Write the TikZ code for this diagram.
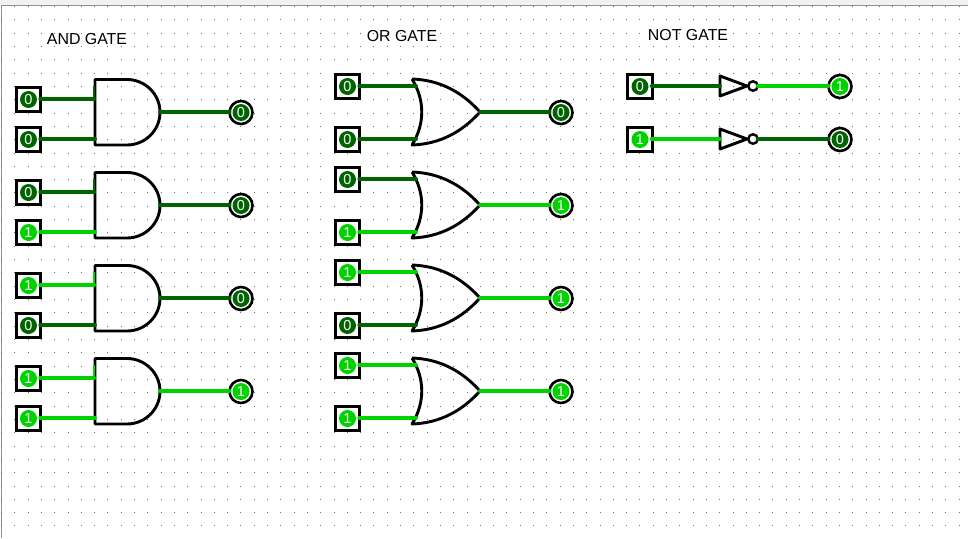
\documentclass[tikz,border=0pt]{standalone}
\usepackage{fontspec}
\setmainfont{Liberation Sans}
\usetikzlibrary{calc}
\definecolor{vzero}{RGB}{0,100,0}
\definecolor{vone}{RGB}{0,210,0}
\colorlet{wirecol0}{vzero}
\colorlet{wirecol1}{vone}
\definecolor{griddot}{RGB}{110,110,110}
\definecolor{frameline}{RGB}{140,145,155}
\definecolor{band}{RGB}{240,240,240}
\tikzset{
  wire0/.style={draw=vzero,line width=4pt,line cap=round},
  wire1/.style={draw=vone,line width=4pt,line cap=round},
  gateline/.style={draw=black,line width=2.9pt,line join=round},
  inbox/.style={draw=black,line width=3.2pt,fill=white,minimum size=24.6pt,inner sep=0pt,outer sep=0pt},
  outring/.style={circle,draw=black,line width=2.6pt,fill=white,minimum size=23pt,inner sep=0pt,outer sep=0pt},
  blob0/.style={circle,fill=vzero,minimum size=17pt,inner sep=0pt,text=white,font=\fontsize{14.5}{14.5}\selectfont},
  blob1/.style={circle,fill=vone,minimum size=17pt,inner sep=0pt,text=white,font=\fontsize{14.5}{14.5}\selectfont},
  title/.style={font=\fontsize{15.9}{16}\selectfont,text=black,inner sep=0pt},
  bubble/.style={circle,draw=black,line width=2.4pt,fill=white,minimum size=9.5pt,inner sep=0pt,outer sep=0pt}
}
% name, x, y, value
\newcommand{\inpin}[4]{%
  \node[inbox] (#1) at (#2,#3+0.5) {};
  \node[blob#4] (#1v) at (#2,#3+0.5) {#4};
}
\newcommand{\outpin}[4]{%
  \node[outring] (#1) at (#2,#3+0.5) {};
  \node[blob#4] (#1v) at (#2,#3+0.5) {#4};
}
% name, top y, a, b, out
\newcommand{\androw}[5]{%
  \inpin{#1a}{28.5}{#2+19.5}{#3}
  \inpin{#1b}{28.5}{#2+59.5}{#4}
  \outpin{#1o}{241}{#2+32.5}{#5}
  \coordinate (#1pa) at (94,#2+19.5);
  \coordinate (#1ps) at (94,#2+6.5);
  \coordinate (#1pb) at (95,#2+59.5);
  \coordinate (#1pq) at (160,#2+32.5);
  \draw[gateline] (127,#2) -- (95,#2) -- (95,#2+65.5) -- (127,#2+65.5)
    .. controls (145,#2+65.5) and (160,#2+51) .. (160,#2+32.75)
    .. controls (160,#2+14.5) and (145,#2) .. (127,#2);
  \draw[wire#3] (#1a.east) ++(-0.5,-0.5) -- (#1pa);
  \draw[line width=2.5pt,draw=wirecol#3] (#1pa) -- (#1ps);
  \draw[wire#4] (#1b.east) ++(-0.5,-0.5) -- (#1pb);
  \draw[wire#5] (#1pq) -- ($(#1o.west)+(0,-0.5)$);
}
% name, top y, ya offset, yb offset, a, b, out
\newcommand{\orrow}[7]{%
  \inpin{#1a}{347.5}{#2+#3}{#5}
  \inpin{#1b}{347.5}{#2+#4}{#6}
  \outpin{#1o}{561}{#2+33}{#7}
  \coordinate (#1pa) at (416,#2+#3);
  \coordinate (#1pb) at (416,#2+#4);
  \coordinate (#1pq) at (480,#2+33);
  \draw[gateline] (412,#2) .. controls (425,#2+21) and (425,#2+45) .. (412,#2+66)
    .. controls (440,#2+65) and (462,#2+53) .. (#1pq)
    .. controls (462,#2+13) and (440,#2+1) .. (412,#2);
  \draw[wire#5] (#1a.east) ++(-0.5,-0.5) -- (#1pa);
  \draw[wire#6] (#1b.east) ++(-0.5,-0.5) -- (#1pb);
  \draw[wire#7] (#1pq) -- ($(#1o.west)+(0,-0.5)$);
}
% name, y, in, out
\newcommand{\notrow}[4]{%
  \inpin{#1a}{640}{#2}{#3}
  \outpin{#1o}{840}{#2}{#4}
  \coordinate (#1pa) at (720,#2);
  \coordinate (#1tip) at (747,#2);
  \draw[gateline] (#1pa) -- (720,#2-10) -- (#1tip) -- (720,#2+10) -- cycle;
  \node[bubble] (#1n) at (753,#2) {};
  \draw[wire#3] (#1a.east) ++(-0.5,-0.5) -- (#1pa);
  \draw[wire#4] (#1n.east) -- ($(#1o.west)+(0,-0.5)$);
}
\begin{document}
\begin{tikzpicture}[x=1pt,y=-1pt]
\useasboundingbox (0,0) rectangle (968,538);
\fill[white] (0,0) rectangle (968,538);
\fill[band] (0,0) rectangle (968,5);
\draw[frameline,line width=1pt] (1,538) -- (1,5.5) -- (968,5.5);
\foreach \i in {0,...,72}{
  \foreach \j in {0,...,39}{
    \fill[griddot] ({round(1+13.3*\i)},{round(6+13.32*\j)}) rectangle +(1,1);
  }
}
\node[title] (tand) at (87,39.5) {AND GATE};
\node[title] (tor) at (402,36) {OR GATE};
\node[title] (tnot) at (688,35) {NOT GATE};
\androw{A}{79.5}{0}{0}{0}
\androw{B}{172.5}{0}{1}{0}
\androw{C}{265.5}{1}{0}{0}
\androw{D}{358.5}{1}{1}{1}
\orrow{E}{79}{7}{60}{0}{0}{0}
\orrow{F}{172}{7}{60}{0}{1}{1}
\orrow{G}{265}{7}{60}{1}{0}{1}
\orrow{H}{358}{7}{60}{1}{1}{1}
\notrow{M}{86}{0}{1}
\notrow{N}{139}{1}{0}
\end{tikzpicture}
\end{document}
